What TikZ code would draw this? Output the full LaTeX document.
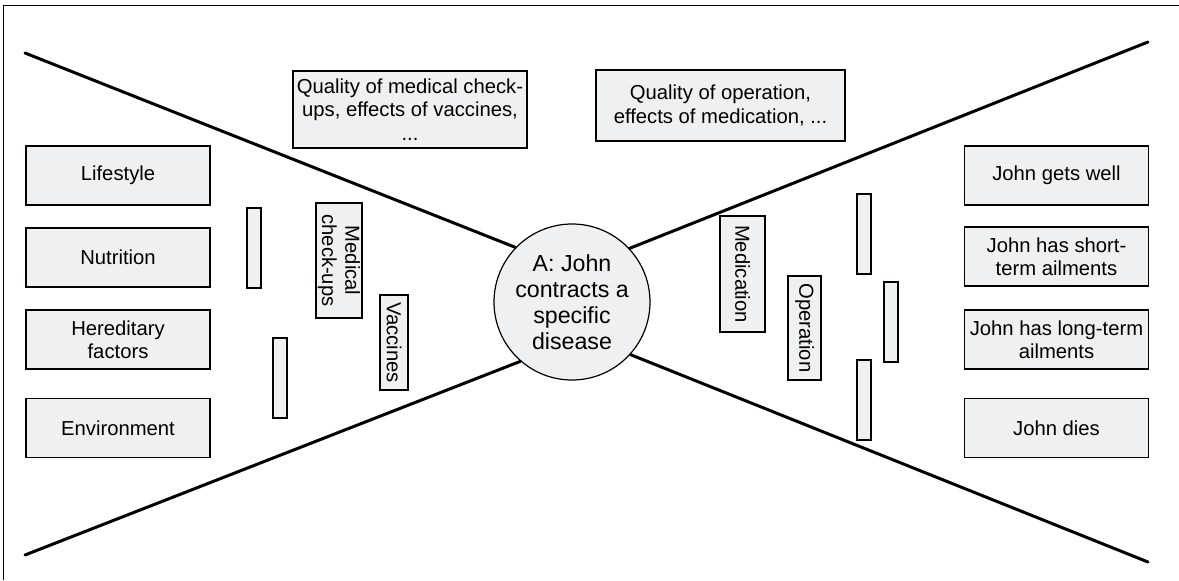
\documentclass[tikz,border=0pt]{standalone}
\usepackage{fontspec}
\setmainfont{Liberation Sans}
\newlength{\du}
\setlength{\du}{0.025cm}
\definecolor{boxfillcolor}{rgb}{0.937000, 0.941000, 0.945000}
\tikzset{
  itembox/.style={draw, fill=boxfillcolor, line width=1.2\du, inner sep=0pt, align=center,
    font=\fontsize{14.4}{16.5}\selectfont},
  sidebox/.style={itembox, minimum width=184\du, minimum height=59\du},
  barbox/.style={itembox, minimum width=14\du, minimum height=80\du},
  vbox/.style={itembox, rotate=-90},
  hubnode/.style={circle, draw, fill=boxfillcolor, line width=1.2\du, inner sep=0pt,
    minimum size=156\du, align=center, font=\fontsize{16.5}{18.6}\selectfont},
  branch/.style={line width=3\du, line cap=round}
}
\begin{document}
\begin{tikzpicture}
\pgftransformxscale{1.000000}
\pgftransformyscale{-1.000000}
\useasboundingbox (0\du,0\du) rectangle (1179\du,580\du);
\definecolor{dialinecolor}{rgb}{0.000000, 0.000000, 0.000000}
\pgfsetstrokecolor{dialinecolor}
\pgfsetlinewidth{1.000000\du}
\draw (3\du,580\du)--(3\du,5\du)--(1179\du,5\du);
% centre
\node[hubnode] (hub) at (572\du,302\du){A: John\\contracts a\\specific\\disease};
% causes
\node[sidebox] (lifestyle) at (118\du,175.5\du){Lifestyle};
\node[sidebox] (nutrition) at (118\du,257.5\du){Nutrition};
\node[sidebox] (hereditary) at (118\du,339.5\du){Hereditary\\factors};
\node[sidebox] (environment) at (118\du,428\du){Environment};
% consequences
\node[sidebox] (well) at (1056.5\du,175.5\du){John gets well};
\node[sidebox] (shortterm) at (1056.5\du,256.5\du){John has short-\\term ailments};
\node[sidebox] (longterm) at (1056.5\du,339.5\du){John has long-term\\ailments};
\node[sidebox] (dies) at (1056.5\du,428\du){John dies};
% quality boxes
\node[itembox, minimum width=234\du, minimum height=77\du] (qualleft) at (410\du,109.5\du){Quality of medical check-\\ups, effects of vaccines,\\...};
\node[itembox, minimum width=249\du, minimum height=71\du] (qualright) at (720.5\du,105.5\du){Quality of operation,\\effects of medication, ...};
% barriers
\node[barbox] (barA) at (254\du,248\du){};
\node[barbox] (barB) at (280\du,378\du){};
\node[vbox, minimum width=115\du, minimum height=46\du] (checkups) at (339\du,260.5\du){Medical\\check-ups};
\node[vbox, minimum width=95\du, minimum height=28\du] (vaccines) at (394\du,342.5\du){Vaccines};
\node[vbox, minimum width=116\du, minimum height=45\du] (medication) at (742.5\du,274\du){Medication};
\node[vbox, minimum width=104\du, minimum height=33\du] (operation) at (804.5\du,328\du){Operation};
\node[barbox] (barC) at (864\du,234\du){};
\node[barbox] (barD) at (891\du,322\du){};
\node[barbox] (barE) at (864\du,400\du){};
% branches
\coordinate (ul) at (25\du,53\du);
\coordinate (ll) at (25\du,555\du);
\coordinate (ur) at (1148\du,42\du);
\coordinate (lr) at (1148\du,562\du);
\draw[branch] (ul)--(hub.136);
\draw[branch] (ll)--(hub.229);
\draw[branch] (ur)--(hub.43);
\draw[branch] (lr)--(hub.-42);
\end{tikzpicture}
\end{document}
